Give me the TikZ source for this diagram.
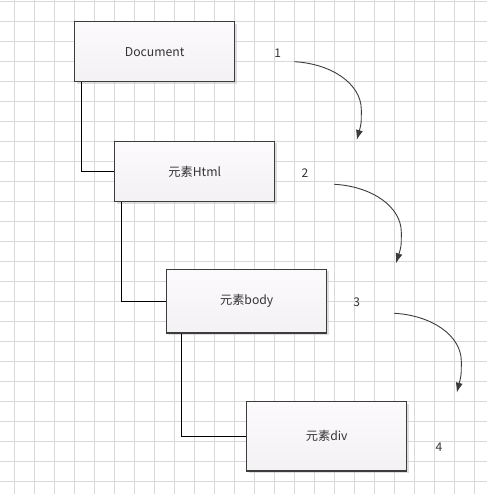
\documentclass[tikz,border=0pt]{standalone}
\usepackage{fontspec}
\setmainfont{Noto Sans CJK SC}
\usetikzlibrary{calc,arrows.meta,shadows}
\definecolor{gridc}{HTML}{D9D9D9}
\definecolor{edgec}{HTML}{3C3C3C}
\definecolor{topc}{HTML}{FDFAFD}
\definecolor{botc}{HTML}{F3F1F3}
\definecolor{textc}{HTML}{333333}
\tikzset{
  gridline/.style={draw=gridc, line width=0.9pt},
  box/.style={draw=edgec, line width=1.2pt, top color=topc, bottom color=botc,
    minimum width=160pt, inner sep=0pt, text=textc,
    font=\fontsize{12.2}{14}\selectfont,
    drop shadow={shadow xshift=2pt, shadow yshift=-2pt, fill=black!25, opacity=0.5}},
  link/.style={draw=black, line width=1pt},
  num/.style={text=textc, font=\fontsize{12}{14}\selectfont, inner sep=0pt},
  curvearrow/.style={draw=edgec, line width=0.9pt, -{Latex[length=10pt,width=7pt]}}
}
\begin{document}
\begin{tikzpicture}[x=1pt,y=-1pt]
\useasboundingbox (0,0) rectangle (487,494);
\fill[white] (0,0) rectangle (487,494);
\foreach \k in {0,...,23} \draw[gridline] ({14.7+20*\k},0) -- ++(0,494);
\foreach \k in {0,...,24} \draw[gridline] (0,{1.7+20*\k}) -- ++(487,0);

\node[box, minimum height=60pt] (b1) at (154.7,51.7) {Document};
\node[box, minimum height=60pt] (b2) at (194.7,171.5) {元素Html};
\node[box, minimum height=63.5pt] (b3) at (246.7,301.2) {元素body};
\node[box, minimum height=69.3pt] (b4) at (326.7,436.3) {元素div};

\draw[link] ([xshift=7.6pt]b1.south west) |- (b2.west);
\draw[link] ([xshift=7.6pt]b2.south west) |- (b3.west);
\draw[link] ([xshift=15.6pt]b3.south west) |- (b4.west);

\node[num] (n1) at (277.7,53.3) {1};
\node[num] (n2) at (305,173.3) {2};
\node[num] (n3) at (356.7,302.7) {3};
\node[num] (n4) at (439,447.3) {4};

\coordinate (s1) at (294.3,61.7);  \coordinate (e1) at (356.7,140);
\coordinate (s2) at (334.3,184.3); \coordinate (e2) at (396,263.3);
\coordinate (s3) at (394.3,313.3); \coordinate (e3) at (456.7,392.7);
\foreach \i in {1,2,3}{
  \draw[curvearrow] (s\i) .. controls ($(s\i)+(37,2)$) and ($(s\i)+(67,22)$) .. ($(s\i)+(67,48)$)
     .. controls ($(s\i)+(67,62)$) .. (e\i);
}
\end{tikzpicture}
\end{document}
